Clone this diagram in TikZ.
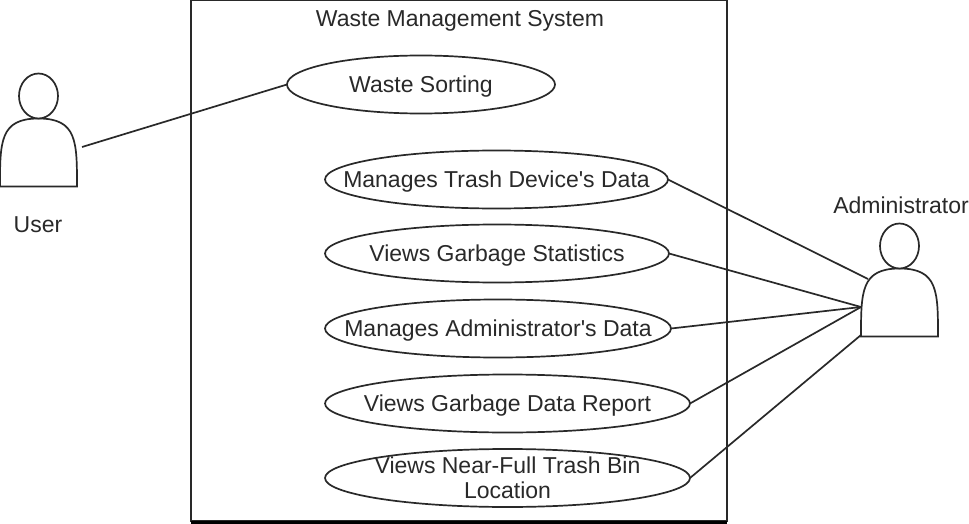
\documentclass[tikz,border=0pt]{standalone}
\usepackage{fontspec}
\newfontfamily\diagramfont{Liberation Sans}
\usetikzlibrary{shapes.geometric}
\definecolor{ink}{gray}{0.16}
\newcommand\difont{\diagramfont\fontsize{23}{25}\selectfont}
\tikzset{
  x=1pt,y=-1pt,
  line/.style={draw=ink,line width=1.7pt},
  label text/.style={text=ink,font=\difont,inner sep=0pt,align=center},
  usecase/.style={ellipse,line,fill=white,text=ink,font=\difont,align=center,
    inner xsep=-60pt,inner ysep=-10pt,outer sep=0pt,minimum height=58pt},
  one line/.style={text height=21.4pt,text depth=5pt},
  actor/.pic={
    \draw[line,fill=white] (0,113) .. controls (0,68) and (0,45) .. (38.5,45)
      .. controls (77,45) and (77,68) .. (77,113) -- cycle;
    \draw[line,fill=white] (38.5,22.5) ellipse [x radius=19.5,y radius=22.5];
  }
}
\begin{document}
\begin{tikzpicture}
\useasboundingbox (0,0) rectangle (969,524);
\fill[white] (0,0) rectangle (969,524);
\node[line,rectangle,fill=white,minimum width=536pt,minimum height=521pt,anchor=north west,inner sep=0pt,outer sep=0pt] (system) at (191,0) {};
\draw[black,line width=3pt] (191,522.5) -- (727,522.5);
\node[label text] (title) at (460,21) {Waste Management System};
\node[usecase,one line,minimum width=268pt] (sorting) at (421,84.5) {Waste Sorting};
\node[usecase,one line,minimum width=343pt] (trash) at (496.5,179.5) {Manages Trash Device's Data};
\node[usecase,one line,minimum width=344pt] (stats) at (497,253.5) {Views Garbage Statistics};
\node[usecase,one line,minimum width=346pt] (admin) at (498,328.5) {Manages Administrator's Data};
\node[usecase,one line,minimum width=365pt] (report) at (507.5,403.5) {Views Garbage Data Report};
\node[usecase,minimum width=365pt] (bin) at (507.5,478) {Views Near-Full Trash Bin\\Location};
\pic at (0,73.5) {actor};
\pic at (861,223.5) {actor};
\node[label text] (user) at (38,225) {User};
\node[label text] (adminlabel) at (901,205) {Administrator};
\coordinate (u) at (82,147);
\coordinate (a1) at (868,279);
\coordinate (a2) at (861,307);
\coordinate (a3) at (861,335);
\draw[line] (u) -- (sorting.west);
\draw[line] (trash.east) -- (a1);
\draw[line] (stats.east) -- (a2);
\draw[line] (admin.east) -- (a2);
\draw[line] (report.east) -- (a2);
\draw[line] (bin.east) -- (a3);
\end{tikzpicture}
\end{document}
